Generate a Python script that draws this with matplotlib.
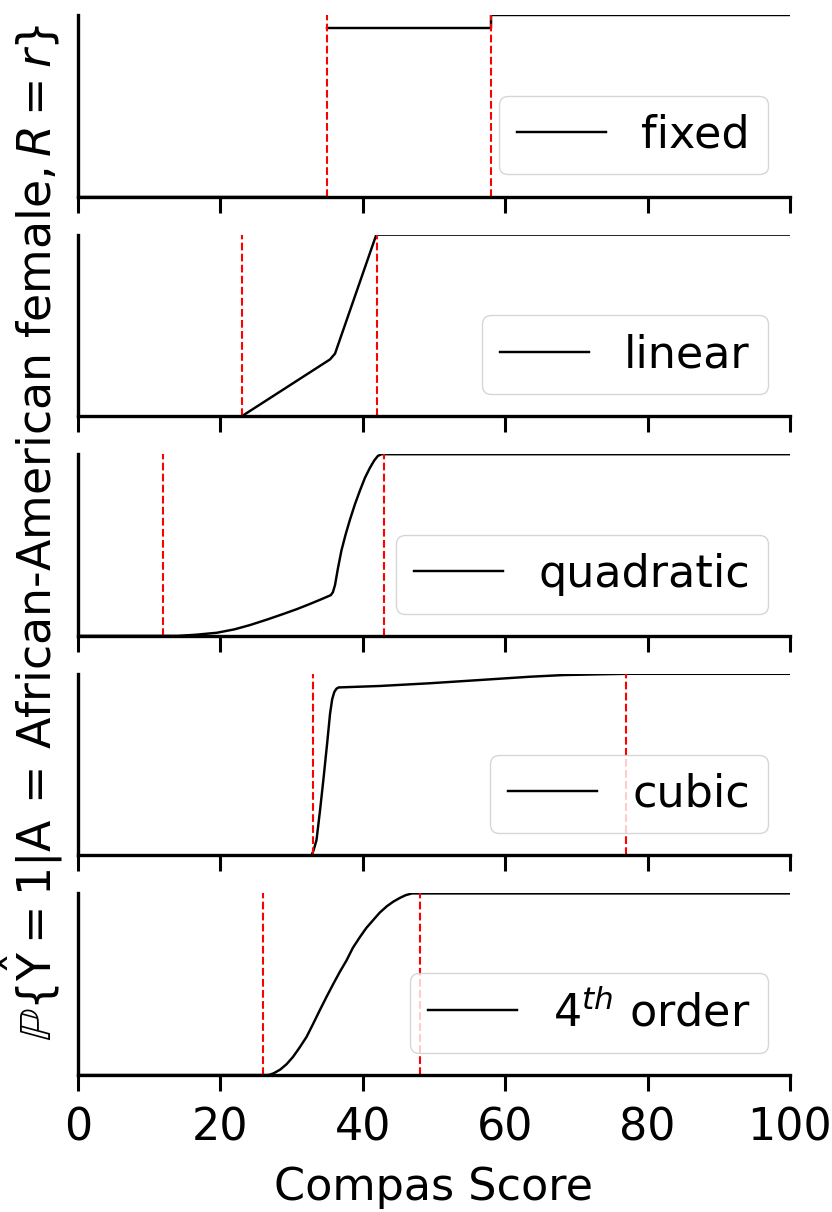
import numpy as np
import matplotlib
matplotlib.use("Agg")
import matplotlib.pyplot as plt

# threshold positions (red dashed lines) per model
labels = ["fixed", "linear", "quadratic", "cubic", r"$4^{th}$ order"]
thresholds = [(35, 58), (23, 42), (12, 43), (33, 77), (26, 48)]

# curves (compas score, probability)
fixed_x = [0, 35, np.nan, 35, 58, 58, 100]
fixed_y = [0, 0, np.nan, 0.927, 0.927, 1.0, 1.0]

linear_x = [0, 23.0, 35.4, 36.1, 41.9, 100]
linear_y = [0, 0, 0.313, 0.345, 1.0, 1.0]

quad_x = [0, 14.0, 16.5, 19.5, 22.0, 24.2, 26.5, 28.8, 30.8, 32.6, 34.2, 35.5,
          35.8, 36.1, 36.5, 37.0, 37.6, 38.2, 38.9, 39.6, 40.3, 41.0, 41.6, 42.1, 42.6, 100]
quad_y = [0, 0, 0.006, 0.017, 0.036, 0.06, 0.089, 0.12, 0.148, 0.176, 0.202, 0.224,
          0.24, 0.28, 0.37, 0.47, 0.56, 0.64, 0.725, 0.80, 0.87, 0.925, 0.965, 0.99, 1.0, 1.0]

cubic_x = [0, 32.8, 33.1, 33.5, 34.0, 34.5, 35.0, 35.4, 35.7, 36.0, 36.3, 36.6,
           42.4, 49.4, 56.5, 63.5, 68.1, 72.8, 77.0, 100]
cubic_y = [0, 0, 0.03, 0.085, 0.25, 0.43, 0.62, 0.78, 0.86, 0.90, 0.918, 0.925,
           0.933, 0.948, 0.966, 0.984, 0.993, 0.997, 1.0, 1.0]

quart_x = [0, 26.7, 27.0, 27.5, 28.4, 29.3, 30.2, 31.1, 32.1, 33.0, 34.0, 34.9,
           35.9, 36.8, 37.7, 38.6, 39.6, 40.5, 41.5, 42.4, 43.4, 44.3, 45.2,
           46.0, 46.9, 100]
quart_y = [0, 0, 0.003, 0.01, 0.03, 0.06, 0.10, 0.15, 0.21, 0.28, 0.36, 0.43,
           0.505, 0.57, 0.63, 0.70, 0.76, 0.81, 0.855, 0.895, 0.93, 0.955, 0.975,
           0.99, 1.0, 1.0]

curves = [(fixed_x, fixed_y), (linear_x, linear_y), (quad_x, quad_y),
          (cubic_x, cubic_y), (quart_x, quart_y)]

plt.rcParams["font.size"] = 32
plt.rcParams["legend.fontsize"] = 32

fig, axes = plt.subplots(5, 1, sharex=True, figsize=(8.32, 12.12), dpi=100)
fig.subplots_adjust(left=0.09375, right=0.9495, top=0.9876, bottom=0.1130, hspace=0.209)

for ax, (cx, cy), lab, thr in zip(axes, curves, labels, thresholds):
    ax.plot(cx, cy, color="black", lw=1.75, label=lab)
    for t in thr:
        ax.axvline(t, color="red", ls="--", lw=1.5)
    ax.set_xlim(0, 100)
    ax.set_ylim(0, 1)
    ax.set_yticks([])
    ax.spines["top"].set_visible(False)
    ax.spines["right"].set_visible(False)
    ax.spines["left"].set_linewidth(2.4)
    ax.spines["bottom"].set_linewidth(2.4)
    ax.tick_params(axis="x", length=11.5, width=2.2, pad=11)
    ax.legend(loc="lower right")

axes[-1].set_xticks([0, 20, 40, 60, 80, 100])
axes[-1].set_xlabel("Compas Score", labelpad=12)

fig.text(32 / 832, 1 - 532 / 1212,
         r"$\mathbb{P}\{\hat{\mathrm{Y}}=1|\mathrm{A}\,=\,\mathrm{African}$-American female$, R=r\}$",
         rotation=90, ha="center", va="center", fontsize=33)

fig.savefig("out.png", dpi=100)
